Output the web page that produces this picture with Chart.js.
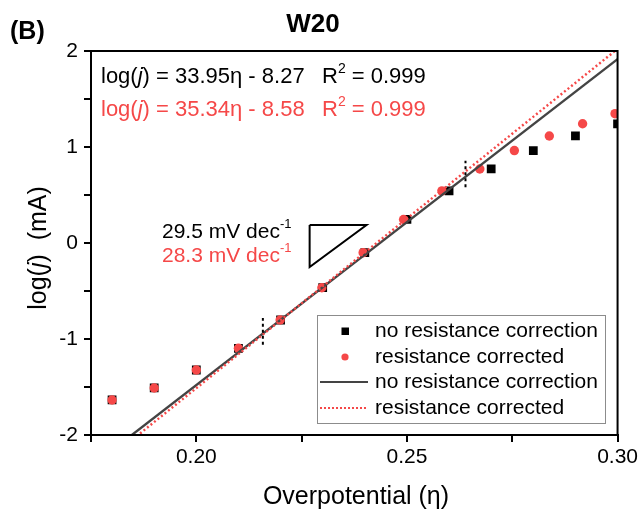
<!DOCTYPE html>
<html>
<head>
<meta charset="utf-8">
<script src="https://cdn.jsdelivr.net/npm/chart.js@4/dist/chart.umd.min.js"></script>
<style>
  html, body { margin: 0; padding: 0; background: #fff; }
  #wrap { width: 641px; height: 512px; }
</style>
</head>
<body>
<div id="wrap"><canvas id="tafel" width="641" height="512"></canvas></div>
<script>
// Tafel data for W20: log(j) vs overpotential, raw and iR-corrected
const overpotentialRaw = [0.18, 0.19, 0.20, 0.21, 0.22, 0.23, 0.24, 0.25, 0.26, 0.27, 0.28, 0.29, 0.30];
const logJRaw = [-1.635, -1.51, -1.323, -1.097, -0.802, -0.466, -0.101, 0.245, 0.543, 0.771, 0.963, 1.115, 1.242];
const overpotentialCorrected = [0.18, 0.19, 0.20, 0.21, 0.2199, 0.2298, 0.2396, 0.2492, 0.2583, 0.2673, 0.2755, 0.2838, 0.2917, 0.2994];
const logJCorrected = [-1.635, -1.51, -1.323, -1.097, -0.802, -0.466, -0.101, 0.245, 0.543, 0.771, 0.963, 1.115, 1.242, 1.347];

// Linear fits: log(j) = slope * eta + intercept
const fitSlopes = [33.95, 35.34];
const fitIntercepts = [-8.27, -8.58];
const fitR2 = ['0.999', '0.999'];
const fitSpan = [0.175, 0.30];

// Fit window markers (eta, lower and upper log j)
const fitWindowEta = [0.2158, 0.2639];
const fitWindowLow = [-1.06, 0.58];
const fitWindowHigh = [-0.78, 0.857];

// Slope guide triangle
const triangleEta = [0.2269, 0.2404, 0.2269, 0.2269];
const triangleLogJ = [0.1875, 0.1875, -0.25, 0.1875];
const tafelSlopes = ['29.5', '28.3'];

// Axes
const xTicks = [0.175, 0.20, 0.225, 0.25, 0.275, 0.30];
const yTicks = [-2, -1.5, -1, -0.5, 0, 0.5, 1, 1.5, 2];
const seriesNames = ['no resistance correction', 'resistance corrected'];

const RED = '#f54848';
const GREY = '#444444';
const FONT = '"Liberation Sans", Arial, Helvetica, sans-serif';

const pts = (xs, ys) => xs.map((x, i) => ({ x, y: ys[i] }));
const fitLine = k => fitSpan.map(x => ({ x, y: fitSlopes[k] * x + fitIntercepts[k] }));

function fontFor(kind, size) {
  const s = kind === 'sup' ? Math.round(size * 0.62) : size;
  const style = kind === 'i' ? 'italic ' : '';
  return style + s + 'px ' + FONT;
}

// Draws text made of runs: ['text', ''|'i'|'sup']
function richText(ctx, x, y, runs, size, color, align) {
  ctx.save();
  ctx.fillStyle = color;
  ctx.textBaseline = 'middle';
  ctx.textAlign = 'left';
  const widths = runs.map(r => { ctx.font = fontFor(r[1], size); return ctx.measureText(r[0]).width; });
  const total = widths.reduce((a, b) => a + b, 0);
  let cx = align === 'center' ? x - total / 2 : x;
  runs.forEach((r, i) => {
    ctx.font = fontFor(r[1], size);
    const dy = r[1] === 'sup' ? -size * 0.36 : 0;
    ctx.fillText(r[0], cx, y + dy);
    cx += widths[i];
  });
  ctx.restore();
}

const decorations = {
  id: 'decorations',
  afterDatasetsDraw(chart) {
    const { ctx, chartArea: a } = chart;
    ctx.save();
    ctx.strokeStyle = '#000';
    ctx.lineWidth = 2;
    ctx.strokeRect(a.left, a.top, a.right - a.left, a.bottom - a.top);
    ctx.restore();
  },
  afterDraw(chart) {
    const { ctx } = chart;

    // Panel tag and title
    ctx.save();
    ctx.fillStyle = '#000';
    ctx.textBaseline = 'middle';
    ctx.font = 'bold 26px ' + FONT;
    ctx.textAlign = 'center';
    ctx.fillText('W20', 313, 25);
    ctx.font = 'bold 25px ' + FONT;
    ctx.textAlign = 'left';
    ctx.fillText('(B)', 10, 32);
    ctx.restore();

    // Fit equations
    const colors = ['#000', RED];
    [77, 110].forEach((y, k) => {
      const b = Math.abs(fitIntercepts[k]).toFixed(2);
      richText(ctx, 101, y, [['log(', ''], ['j', 'i'], [') = ' + fitSlopes[k].toFixed(2) + '\u03b7 - ' + b, '']], 22, colors[k]);
      richText(ctx, 322, y, [['R', ''], ['2', 'sup'], [' = ' + fitR2[k], '']], 22, colors[k]);
    });

    // Tafel slopes
    [232, 256].forEach((y, k) => {
      richText(ctx, 162, y, [[tafelSlopes[k] + ' mV dec', ''], ['-1', 'sup']], 21, colors[k]);
    });

    // Legend
    ctx.save();
    ctx.strokeStyle = '#8c8c8c';
    ctx.lineWidth = 1;
    ctx.strokeRect(317.5, 315.5, 288, 108);
    ctx.fillStyle = '#000';
    ctx.fillRect(341.5, 327.5, 7.5, 7.5);
    ctx.fillStyle = RED;
    ctx.beginPath();
    ctx.arc(345, 357, 3.6, 0, Math.PI * 2);
    ctx.fill();
    ctx.lineWidth = 2;
    ctx.strokeStyle = GREY;
    ctx.beginPath();
    ctx.moveTo(320, 382); ctx.lineTo(368, 382);
    ctx.stroke();
    ctx.strokeStyle = RED;
    ctx.setLineDash([2, 2]);
    ctx.beginPath();
    ctx.moveTo(320, 408); ctx.lineTo(368, 408);
    ctx.stroke();
    ctx.restore();
    [331, 357, 382, 408].forEach((y, i) => {
      richText(ctx, 375, y, [[seriesNames[i % 2], '']], 21, '#000');
    });

    // Axis titles
    richText(ctx, 356, 497, [['Overpotential (\u03b7)', '']], 25, '#000', 'center');
    ctx.save();
    ctx.translate(39, 248);
    ctx.rotate(-Math.PI / 2);
    richText(ctx, 0, 0, [['log(', ''], ['j', 'i'], [')  (mA)', '']], 25, '#000', 'center');
    ctx.restore();
  }
};

const axisCommon = {
  grid: { drawOnChartArea: false, drawTicks: true, tickLength: 7, color: '#000', lineWidth: 2 },
  border: { color: '#000', width: 2 },
};

new Chart(document.getElementById('tafel'), {
  type: 'scatter',
  data: {
    datasets: [
      {
        label: seriesNames[0],
        data: pts(overpotentialRaw, logJRaw),
        pointStyle: 'rect', pointRadius: 6.2, pointHoverRadius: 6.2,
        backgroundColor: '#000', borderColor: '#000', borderWidth: 0,
        order: 6
      },
      {
        label: seriesNames[1],
        data: pts(overpotentialCorrected, logJCorrected),
        pointStyle: 'circle', pointRadius: 4.7, pointHoverRadius: 4.7,
        backgroundColor: RED, borderColor: RED, borderWidth: 0,
        order: 5
      },
      {
        label: seriesNames[0] + ' fit',
        data: fitLine(0),
        showLine: true, pointRadius: 0, borderColor: GREY, borderWidth: 2.4,
        clip: 0, order: 4
      },
      {
        label: seriesNames[1] + ' fit',
        data: fitLine(1),
        showLine: true, pointRadius: 0, borderColor: RED, borderWidth: 2.4,
        borderDash: [2, 2.5], clip: 0, order: 3
      },
      ...fitWindowEta.map((x, i) => ({
        label: 'fit window ' + (i + 1),
        data: [{ x, y: fitWindowLow[i] }, { x, y: fitWindowHigh[i] }],
        showLine: true, pointRadius: 0, borderColor: '#000', borderWidth: 2,
        borderDash: [3, 3], order: 2
      })),
      {
        label: 'slope guide',
        data: pts(triangleEta, triangleLogJ),
        showLine: true, pointRadius: 0, borderColor: '#000', borderWidth: 2,
        borderJoinStyle: 'miter', order: 1
      }
    ]
  },
  options: {
    responsive: false,
    animation: false,
    devicePixelRatio: 1,
    layout: { padding: { left: 0, top: 51, right: 22, bottom: 0 } },
    plugins: { legend: { display: false }, tooltip: { enabled: false } },
    events: [],
    scales: {
      x: {
        type: 'linear', min: 0.175, max: 0.30,
        afterBuildTicks: s => { s.ticks = xTicks.map(v => ({ value: v })); },
        afterFit: s => { s.height = 77; },
        ticks: {
          autoSkip: false, maxRotation: 0, padding: 3, color: '#000',
          font: { family: FONT, size: 21 },
          callback: v => Math.abs(v * 20 - Math.round(v * 20)) < 1e-6 ? v.toFixed(2) : ''
        },
        ...axisCommon
      },
      y: {
        type: 'linear', min: -2, max: 2,
        afterBuildTicks: s => { s.ticks = yTicks.map(v => ({ value: v })); },
        afterFit: s => { s.width = 91; },
        ticks: {
          autoSkip: false, padding: 6, color: '#000',
          font: { family: FONT, size: 21 },
          callback: v => Number.isInteger(v) ? String(v) : ''
        },
        ...axisCommon
      }
    }
  },
  plugins: [decorations]
});
</script>
</body>
</html>
